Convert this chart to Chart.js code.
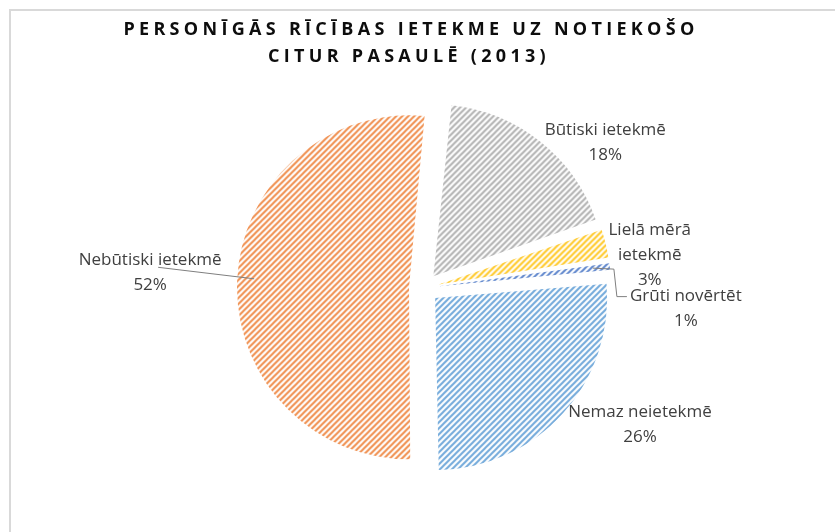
<!DOCTYPE html>
<html>
<head>
<meta charset="utf-8">
<script src="https://cdn.jsdelivr.net/npm/chart.js@4"></script>
<style>
    body { margin: 0; background: #fff; }
    canvas { display: block; }
</style>
</head>
<body>
<canvas id="pieChart" width="835" height="532"></canvas>
<script>
// dati
const titleLines = ['PERSONĪGĀS RĪCĪBAS IETEKME UZ NOTIEKOŠO', 'CITUR PASAULĒ (2013)'];
const categories = ['Būtiski ietekmē', 'Lielā mērā ietekmē', 'Grūti novērtēt', 'Nemaz neietekmē', 'Nebūtiski ietekmē'];
const shares = [18, 3, 1, 26, 52];
const labelWrap = [['Būtiski ietekmē'], ['Lielā mērā', 'ietekmē'], ['Grūti novērtēt'], ['Nemaz neietekmē'], ['Nebūtiski ietekmē']];
const sliceColors = ['#a5a5a5', '#ffc000', '#4472c4', '#5b9bd5', '#ed7d31'];

// label placement relative to outer edge of the slice
const labelShift = [[66, 0], [56, 9], [90, 41], [77, 12], [-102, -8]];
const OFFSET = 60;   // chart.js divides by 4 -> 15px explode

function stripes(color) {
    const s = 6;
    const c = document.createElement('canvas');
    c.width = s; c.height = s;
    const g = c.getContext('2d');
    g.fillStyle = '#ffffff';
    g.fillRect(0, 0, s, s);
    g.strokeStyle = color;
    g.globalAlpha = 0.85;
    g.lineWidth = 2;
    g.beginPath();
    g.moveTo(0, s); g.lineTo(s, 0);
    g.moveTo(-1, 1); g.lineTo(1, -1);
    g.moveTo(s - 1, s + 1); g.lineTo(s + 1, s - 1);
    g.stroke();
    return g.createPattern(c, 'repeat');
}

// ramis un virsraksts
const framePlugin = {
    id: 'frame',
    beforeDraw(chart) {
        const ctx = chart.ctx;
        ctx.save();
        ctx.strokeStyle = '#d9d9d9';
        ctx.lineWidth = 2;
        ctx.strokeRect(10, 10, 900, 600);
        ctx.fillStyle = '#0d0d0d';
        ctx.font = 'bold 18px "Open Sans"';
        ctx.letterSpacing = '4.3px';
        ctx.textAlign = 'center';
        ctx.textBaseline = 'middle';
        ctx.fillText(titleLines[0], 411, 30);
        ctx.fillText(titleLines[1], 409, 57);
        ctx.restore();
    }
};

// kompensē rādiusa palielinājumu, ko chart.js pieliek izvirzītiem sektoriem
const radiusFix = {
    id: 'radiusFix',
    afterDatasetUpdate(chart, args) {
        args.meta.data.forEach(function (arc) {
            const t = OFFSET / 4;
            arc.outerRadius -= t * (1 - Math.sin(Math.min(Math.PI, arc.circumference)));
        });
    }
};

// datu etiķetes ar vadlīnijām
const outsideLabels = {
    id: 'outsideLabels',
    afterDatasetsDraw(chart) {
        const ctx = chart.ctx;
        const meta = chart.getDatasetMeta(0);
        ctx.save();
        ctx.font = '17px "Open Sans"';
        ctx.fillStyle = '#404040';
        ctx.textAlign = 'center';
        ctx.textBaseline = 'middle';
        const lineH = 25;
        meta.data.forEach(function (arc, i) {
            const mid = (arc.startAngle + arc.endAngle) / 2;
            const t = OFFSET / 4;
            const ex = arc.x + Math.cos(mid) * (t + arc.outerRadius);
            const ey = arc.y + Math.sin(mid) * (t + arc.outerRadius);
            const lines = labelWrap[i].concat([shares[i] + '%']);
            const lx = ex + labelShift[i][0];
            const ly = ey + labelShift[i][1];
            const top = ly - (lines.length - 1) * lineH / 2;

            // leader lines
            ctx.strokeStyle = '#7f7f7f';
            ctx.lineWidth = 1;
            if (i === 2) {
                const w = ctx.measureText(lines[0]).width;
                const left = lx - w / 2;
                ctx.beginPath();
                ctx.moveTo(ex - 3, ey);
                ctx.lineTo(left - 16, ey + 1);
                ctx.lineTo(left - 13, top);
                ctx.lineTo(left - 3, top);
                ctx.stroke();
            }
            if (i === 4) {
                ctx.beginPath();
                ctx.moveTo(ex + 2, ey - 2);
                ctx.lineTo(lx + 8, top + 7);
                ctx.stroke();
            }

            lines.forEach(function (txt, k) {
                ctx.fillText(txt, lx, top + k * lineH);
            });
        });
        ctx.restore();
    }
};

new Chart(document.getElementById('pieChart').getContext('2d'), {
    type: 'pie',
    data: {
        labels: categories,
        datasets: [{
            data: shares,
            backgroundColor: sliceColors.map(stripes),
            borderWidth: 0,
            offset: OFFSET
        }]
    },
    options: {
        responsive: false,
        animation: false,
        events: [],
        rotation: 6,
        layout: {
            padding: { top: 86, bottom: 42, left: 222, right: 209 }
        },
        plugins: {
            legend: { display: false },
            title: { display: false },
            tooltip: { enabled: false }
        }
    },
    plugins: [framePlugin, radiusFix, outsideLabels]
});
</script>
</body>
</html>
